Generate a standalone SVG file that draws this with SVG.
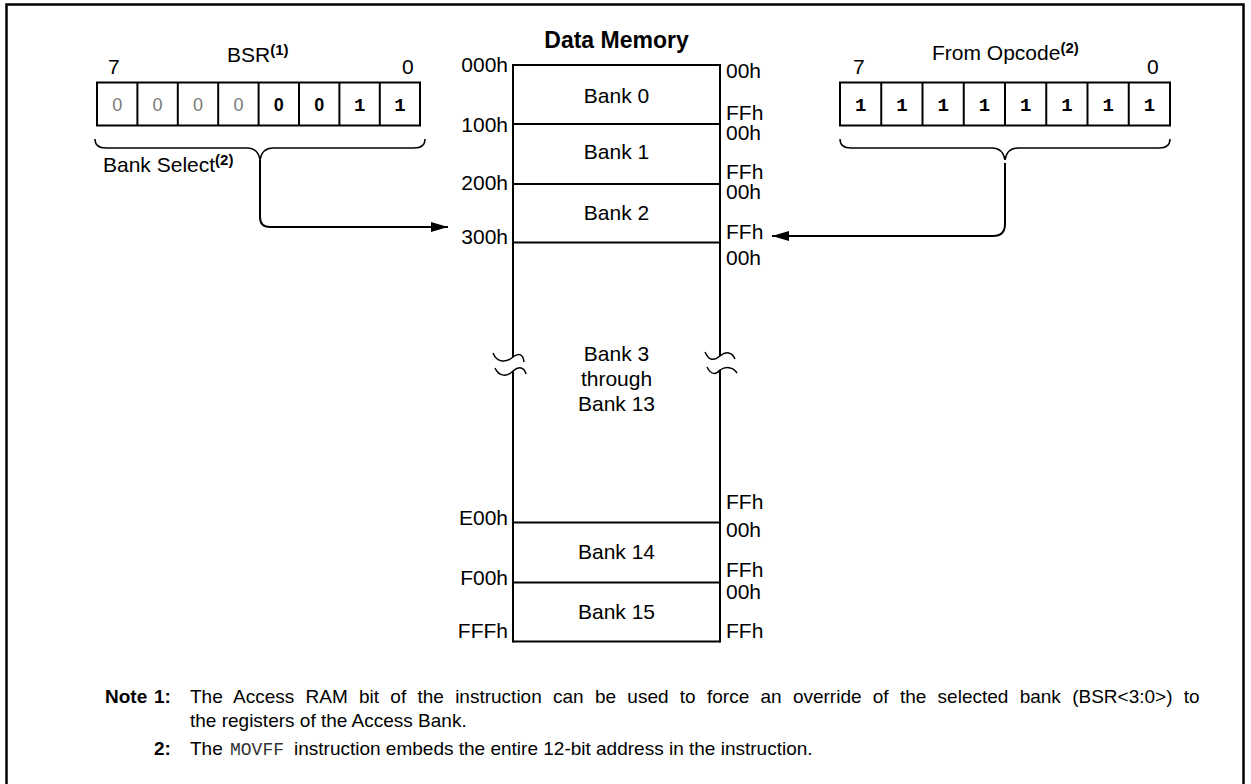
<svg xmlns="http://www.w3.org/2000/svg" width="1251" height="784" viewBox="0 0 1251 784">
<defs>
<style>
.t{font-family:"Liberation Sans",Arial,sans-serif;font-size:21px;fill:#000}
.n{font-family:"Liberation Sans",Arial,sans-serif;font-size:19px;fill:#000}
.b{font-weight:bold}
.sup{font-family:"Liberation Sans",Arial,sans-serif;font-size:15px;font-weight:bold}
.m{font-family:"Liberation Mono","Courier New",monospace;font-size:19px;font-weight:bold}
.z{font-family:"Liberation Sans",Arial,sans-serif;font-size:18px}
.zg{fill:#7a7a7a}
.zb{font-weight:bold;fill:#000}
.box{fill:none;stroke:#000;stroke-width:2}
.br{fill:none;stroke:#000;stroke-width:1.5}
.cn{fill:none;stroke:#000;stroke-width:2}
.wv{fill:none;stroke:#000;stroke-width:1.5}
.e{text-anchor:end}
.c{text-anchor:middle}
</style>
<marker id="ah" markerUnits="userSpaceOnUse" markerWidth="18" markerHeight="12" refX="17" refY="6" orient="auto">
<path d="M0,1 L17,6 L0,11 z" fill="#000"/>
</marker>
</defs>
<rect x="0" y="0" width="1251" height="784" fill="#fff"/>
<rect x="6.5" y="4.5" width="1237" height="820" fill="none" stroke="#000" stroke-width="2.5"/>

<g id="bsr">
<text class="t" x="227" y="62">BSR<tspan class="sup" dy="-7">(1)</tspan></text>
<text class="t" x="108" y="74">7</text>
<text class="t" x="402" y="74">0</text>
<rect class="box" x="97" y="82.5" width="323" height="43"/>
<path class="box" d="M137.4,82.5V125.5M177.8,82.5V125.5M218.2,82.5V125.5M258.6,82.5V125.5M299,82.5V125.5M339.4,82.5V125.5M379.8,82.5V125.5"/>
<g class="c">
<text class="z zg" x="117.2" y="111">0</text>
<text class="z zg" x="157.6" y="111">0</text>
<text class="z zg" x="198" y="111">0</text>
<text class="z zg" x="238.4" y="111">0</text>
<text class="z zb" x="278.8" y="111">0</text>
<text class="z zb" x="319.2" y="111">0</text>
<text class="m" x="359.6" y="111">1</text>
<text class="m" x="400" y="111">1</text>
</g>
<path class="br" d="M95,139 Q95,148 106,148 H247 Q258,148 260,160 Q262,148 273,148 H414 Q425,148 425,139"/>
<text class="t" x="103" y="172">Bank Select<tspan class="sup" dy="-7">(2)</tspan></text>
</g>

<g id="opcode">
<text class="t" x="932" y="60">From Opcode<tspan class="sup" dy="-7">(2)</tspan></text>
<text class="t" x="853" y="74">7</text>
<text class="t" x="1147" y="74">0</text>
<rect class="box" x="840" y="82.5" width="330" height="43"/>
<path class="box" d="M881.25,82.5V125.5M922.5,82.5V125.5M963.75,82.5V125.5M1005,82.5V125.5M1046.25,82.5V125.5M1087.5,82.5V125.5M1128.75,82.5V125.5"/>
<g class="m c">
<text x="860.6" y="111">1</text>
<text x="901.9" y="111">1</text>
<text x="943.1" y="111">1</text>
<text x="984.4" y="111">1</text>
<text x="1025.6" y="111">1</text>
<text x="1066.9" y="111">1</text>
<text x="1108.1" y="111">1</text>
<text x="1149.4" y="111">1</text>
</g>
<path class="br" d="M840,139 Q840,148 851,148 H992 Q1003,148 1005,160 Q1007,148 1018,148 H1159 Q1170,148 1170,139"/>
</g>

<g id="memory">
<text class="t b c" x="616.5" y="48" style="font-size:23px">Data Memory</text>
<path class="box" d="M513,65 H720 M513,124 H720 M513,184 H720 M513,242.5 H720 M513,522.5 H721 M513,582.5 H720 M513,641.5 H720"/>
<path class="box" d="M513,64 V357 M513,371 V642.5 M720,64 V356 M720,370 V642.5"/>
<path class="wv" d="M493,353 C497,363 506,363 513,357 C518,353 523,353 524,362"/>
<path class="wv" d="M495,368 C499,377 507,377 513,371 C519,366 524,367 526,374"/>
<path class="wv" d="M705,352 C709,361 714,361 720,356 C726,351 732,352 735,359"/>
<path class="wv" d="M707,367 C711,375 716,375 720,370 C726,366 733,367 737,373"/>
<g class="t c">
<text x="616.5" y="103">Bank 0</text>
<text x="616.5" y="159">Bank 1</text>
<text x="616.5" y="220">Bank 2</text>
<text x="616.5" y="361">Bank 3</text>
<text x="616.5" y="386">through</text>
<text x="616.5" y="411">Bank 13</text>
<text x="616.5" y="559">Bank 14</text>
<text x="616.5" y="619">Bank 15</text>
</g>
<g class="t e">
<text x="508" y="72">000h</text>
<text x="508" y="132">100h</text>
<text x="508" y="190">200h</text>
<text x="508" y="244">300h</text>
<text x="508" y="525">E00h</text>
<text x="508" y="585">F00h</text>
<text x="508" y="638">FFFh</text>
</g>
<g class="t">
<text x="726" y="78">00h</text>
<text x="726" y="120">FFh</text>
<text x="726" y="140">00h</text>
<text x="726" y="179">FFh</text>
<text x="726" y="199">00h</text>
<text x="726" y="239">FFh</text>
<text x="726" y="265">00h</text>
<text x="726" y="509">FFh</text>
<text x="726" y="537">00h</text>
<text x="726" y="577">FFh</text>
<text x="726" y="599">00h</text>
<text x="726" y="638">FFh</text>
</g>
</g>

<g id="connectors">
<path class="cn" d="M260,160 V217 Q260,227 270,227 H448" marker-end="url(#ah)"/>
<path class="cn" d="M1005,163 V224 Q1005,236 993,236 H772" marker-end="url(#ah)"/>
</g>

<g id="notes">
<text class="n b" x="105" y="703">Note</text>
<text class="n b" x="154" y="703">1:</text>
<text class="n" x="190" y="703" style="word-spacing:6px">The Access RAM bit of the instruction can be used to force an override of the selected bank (BSR&lt;3:0&gt;) to</text>
<text class="n" x="190" y="727">the registers of the Access Bank.</text>
<text class="n b" x="154" y="755">2:</text>
<text class="n" x="190" y="755">The</text>
<text x="230" y="755" style="font-family:'Liberation Mono','Courier New',monospace;font-size:18px;fill:#333">MOVFF</text>
<text class="n" x="294" y="755">instruction embeds the entire 12-bit address in the instruction.</text>
</g>
</svg>
